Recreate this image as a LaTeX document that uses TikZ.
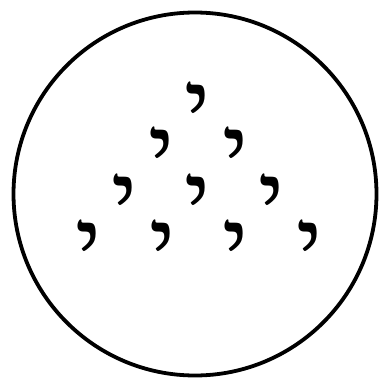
\documentclass[tikz,border=0pt]{standalone}
\usepackage{fontspec}
\newfontfamily\hebfont[Script=Hebrew]{Liberation Serif}
\TeXXeTstate=1
\begin{document}
\begin{tikzpicture}[x=1pt,y=-1pt,
  yod/.style={inner sep=0pt,anchor=base,text height=20pt,text depth=0pt,font=\hebfont\fontsize{100}{100}\selectfont}]
\useasboundingbox (0,0) rectangle (381,378);
\node[draw,circle,line width=3.8pt,minimum size=363pt,inner sep=0pt] (c) at (195,194) {};
\node[yod] (y1) at (198,140) {\beginR י\endR};
\node[yod] (y2) at (162,185) {\beginR י\endR};
\node[yod] (y3) at (236,185) {\beginR י\endR};
\node[yod] (y4) at (125,232) {\beginR י\endR};
\node[yod] (y5) at (198,232) {\beginR י\endR};
\node[yod] (y6) at (272,232) {\beginR י\endR};
\node[yod] (y7) at (89,278) {\beginR י\endR};
\node[yod] (y8) at (163,278) {\beginR י\endR};
\node[yod] (y9) at (236,278) {\beginR י\endR};
\node[yod] (y10) at (310,278) {\beginR י\endR};
\end{tikzpicture}
\end{document}
